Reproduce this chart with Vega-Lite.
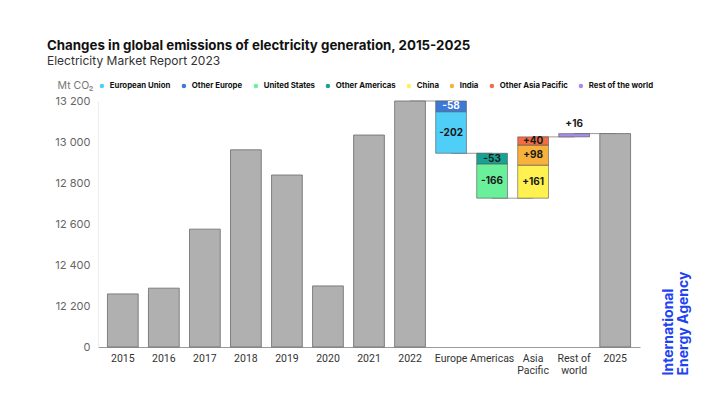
{
  "$schema": "https://vega.github.io/schema/vega-lite/v6.json",
  "width": 542,
  "height": 246,
  "autosize": {"type": "none"},
  "padding": {"left": 98, "top": 101, "right": 80, "bottom": 58},
  "config": {
    "font": "Inter",
    "view": {"stroke": null}
  },
  "title": {
    "text": "Changes in global emissions of electricity generation, 2015-2025",
    "subtitle": "Electricity Market Report 2023",
    "anchor": "start",
    "frame": "group",
    "dx": -51,
    "fontSize": 13.3,
    "fontWeight": "bold",
    "color": "#111111",
    "subtitleFontSize": 12,
    "subtitleColor": "#333333",
    "subtitlePadding": 4,
    "offset": 13
  },
  "datasets": {
    "bars": [
      {"cat": "2015", "series": "Total", "start": 12000, "end": 12259, "change": null},
      {"cat": "2016", "series": "Total", "start": 12000, "end": 12287, "change": null},
      {"cat": "2017", "series": "Total", "start": 12000, "end": 12575, "change": null},
      {"cat": "2018", "series": "Total", "start": 12000, "end": 12962, "change": null},
      {"cat": "2019", "series": "Total", "start": 12000, "end": 12839, "change": null},
      {"cat": "2020", "series": "Total", "start": 12000, "end": 12298, "change": null},
      {"cat": "2021", "series": "Total", "start": 12000, "end": 13034, "change": null},
      {"cat": "2022", "series": "Total", "start": 12000, "end": 13205, "change": null},
      {"cat": "Europe", "series": "Other Europe", "start": 13205, "end": 13147, "change": -58},
      {"cat": "Europe", "series": "European Union", "start": 13147, "end": 12945, "change": -202},
      {"cat": "Americas", "series": "Other Americas", "start": 12945, "end": 12892, "change": -53},
      {"cat": "Americas", "series": "United States", "start": 12892, "end": 12726, "change": -166},
      {"cat": "Asia Pacific", "series": "China", "start": 12726, "end": 12887, "change": 161},
      {"cat": "Asia Pacific", "series": "India", "start": 12887, "end": 12985, "change": 98},
      {"cat": "Asia Pacific", "series": "Other Asia Pacific", "start": 12985, "end": 13025, "change": 40},
      {"cat": "Rest of world", "series": "Rest of the world", "start": 13025, "end": 13041, "change": 16},
      {"cat": "2025", "series": "Total", "start": 12000, "end": 13041, "change": null}
    ],
    "links": [
      {"from": "2022", "to": "Europe", "level": 13205},
      {"from": "Europe", "to": "Americas", "level": 12945},
      {"from": "Americas", "to": "Asia Pacific", "level": 12726},
      {"from": "Asia Pacific", "to": "Rest of world", "level": 13025},
      {"from": "Rest of world", "to": "2025", "level": 13041}
    ]
  },
  "layer": [
    {
      "data": {"name": "links"},
      "mark": {"type": "rule", "color": "#9a9a9a", "strokeWidth": 1},
      "encoding": {
        "x": {
          "field": "from", "type": "nominal",
          "scale": {"domain": ["2015","2016","2017","2018","2019","2020","2021","2022","Europe","Americas","Asia Pacific","Rest of world","2025"], "paddingInner": 0.25, "paddingOuter": 0.23},
          "axis": {"title": null, "labelAngle": 0, "ticks": false, "domainColor": "#9a9a9a", "labelColor": "#333333", "labelFont": "Roboto", "labelFontSize": 10.5, "labelPadding": 6, "labelExpr": "datum.value == 'Asia Pacific' ? ['Asia','Pacific'] : datum.value == 'Rest of world' ? ['Rest of','world'] : datum.value"}
        },
        "x2": {"field": "to"},
        "y": {
          "field": "level", "type": "quantitative",
          "scale": {"domain": [12000, 13200], "nice": false, "zero": false, "clamp": true},
          "axis": {
            "orient": "right", "labels": false, "ticks": false, "domain": false, "grid": false,
            "title": ["International", "Energy Agency"],
            "titleColor": "#1d43f2", "titleFontSize": 14, "titleFontWeight": "bold",
            "titleAngle": -90, "titleAlign": "left", "titleBaseline": "top",
            "titleX": 21, "titleY": 274, "titleLineHeight": 15
          }
        }
      }
    },
    {
      "data": {"name": "bars"},
      "encoding": {
        "x": {
          "field": "cat", "type": "nominal",
          "scale": {"domain": ["2015","2016","2017","2018","2019","2020","2021","2022","Europe","Americas","Asia Pacific","Rest of world","2025"], "paddingInner": 0.25, "paddingOuter": 0.23},
          "axis": {"title": null, "labelAngle": 0, "ticks": false, "domainColor": "#9a9a9a", "labelColor": "#333333", "labelFont": "Roboto", "labelFontSize": 10.5, "labelPadding": 6, "labelExpr": "datum.value == 'Asia Pacific' ? ['Asia','Pacific'] : datum.value == 'Rest of world' ? ['Rest of','world'] : datum.value"}
        }
      },
      "layer": [
        {
          "transform": [{"filter": "datum.series == 'Total'"}],
          "mark": {"type": "bar", "color": "#b0b0b0", "stroke": "#6a6a6a", "strokeWidth": 0.8},
          "encoding": {
            "y": {
              "field": "start", "type": "quantitative",
              "scale": {"domain": [12000, 13200], "nice": false, "zero": false, "clamp": true},
              "axis": {
                "orient": "left",
                "values": [12000, 12200, 12400, 12600, 12800, 13000, 13200],
                "labelExpr": "datum.value == 12000 ? '0' : replace(format(datum.value, ','), ',', ' ')",
                "title": "Mt CO₂", "titleAngle": 0, "titleAlign": "left", "titleBaseline": "middle",
                "titleX": -41, "titleY": -16, "titleFontWeight": "normal", "titleColor": "#777777", "titleFontSize": 10.5,
                "labelColor": "#666666", "labelFontSize": 11, "ticks": false, "labelPadding": 8,
                "domainColor": "#ececec", "gridColor": "#ebebeb"
              }
            },
            "y2": {"field": "end"}
          }
        },
        {
          "transform": [{"filter": "datum.series != 'Total'"}],
          "mark": {"type": "bar", "stroke": "#555555", "strokeWidth": 0.6},
          "encoding": {
            "y": {"field": "start", "type": "quantitative"},
            "y2": {"field": "end"},
            "color": {
              "field": "series", "type": "nominal",
              "scale": {
                "domain": ["European Union", "Other Europe", "United States", "Other Americas", "China", "India", "Other Asia Pacific", "Rest of the world"],
                "range": ["#4fcff8", "#3c78d8", "#6af09a", "#16a394", "#fff250", "#f7b13c", "#f26d43", "#a98be8"]
              },
              "legend": {
                "orient": "top", "direction": "horizontal", "title": null,
                "symbolType": "circle", "symbolSize": 20, "symbolStrokeWidth": 0,
                "labelFontSize": 7.8, "labelFontWeight": "bold", "labelColor": "#111111",
                "columnPadding": 9, "offset": 11, "labelOffset": 4, "padding": 0
              }
            }
          }
        },
        {
          "transform": [
            {"filter": "datum.series != 'Total' && abs(datum.change) >= 30"},
            {"calculate": "(datum.start + datum.end) / 2", "as": "mid"},
            {"calculate": "(datum.change > 0 ? '+' : '') + datum.change", "as": "lbl"}
          ],
          "mark": {"type": "text", "fontSize": 10, "fontWeight": "bold", "baseline": "middle"},
          "encoding": {
            "y": {"field": "mid", "type": "quantitative"},
            "text": {"field": "lbl"},
            "color": {"condition": {"test": "datum.series == 'Other Europe'", "value": "#ffffff"}, "value": "#1a1a1a"}
          }
        },
        {
          "transform": [
            {"filter": "datum.series != 'Total' && abs(datum.change) < 30"},
            {"calculate": "(datum.change > 0 ? '+' : '') + datum.change", "as": "lbl"}
          ],
          "mark": {"type": "text", "fontSize": 10, "fontWeight": "bold", "baseline": "bottom", "dy": -5, "color": "#1a1a1a"},
          "encoding": {
            "y": {"field": "end", "type": "quantitative"},
            "text": {"field": "lbl"}
          }
        }
      ]
    }
  ],
  "resolve": {"scale": {"y": "independent"}, "axis": {"y": "independent"}}
}
